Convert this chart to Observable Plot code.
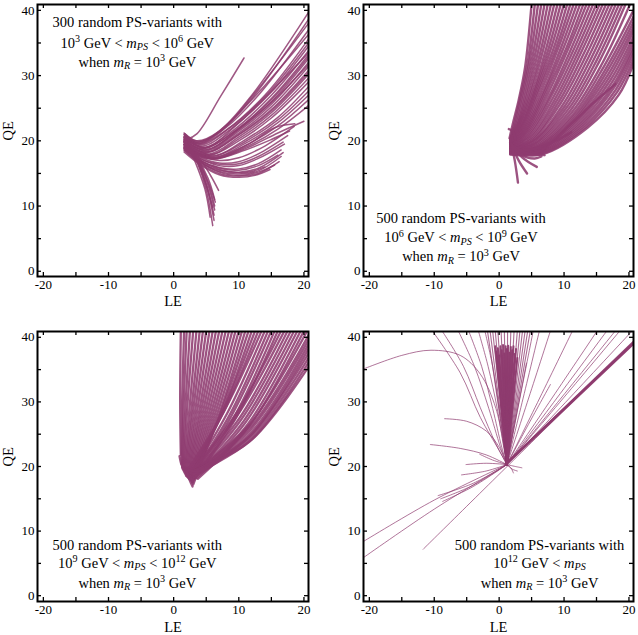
<!DOCTYPE html>
<html><head><meta charset="utf-8">
<script src="https://cdn.jsdelivr.net/npm/d3@7"></script>
<script src="https://cdn.jsdelivr.net/npm/@observablehq/plot@0.6"></script>
<style>
body{margin:0;background:#fff;}
#root{position:relative;width:638px;height:635px;overflow:hidden;background:#fff;}
.panel{position:absolute;}
</style></head><body><div id="root"></div>
<script>
// ---- tick values ----
const xTickLabels = [-20, -10, 0, 10, 20];
const yTickLabels = [0, 10, 20, 30, 40];
const xMinorTicks = [-20, -15, -10, -5, 0, 5, 10, 15, 20];
const yMinorTicks = [0, 5, 10, 15, 20, 25, 30, 35, 40];

// ---- curves (flat lists of LE,QE pairs) ----
// Panel A: 10^3 < mPS < 10^6
const curvesA = [
  [1.6,21.2, 3.5,20, 7,21.5, 12,27, 20.7,39.7],
  [1.6,21, 3.5,19.8, 7,21.3, 12,26.5, 20.7,38.6],
  [1.7,21.1, 3.8,19.9, 7.5,21.8, 12.5,27.4, 20.7,38],
  [1.7,20.8, 4,19.6, 8,22, 13,27, 20.7,37],
  [1.6,20.9, 4,19.7, 8.5,22.8, 14,28.5, 20.7,36.3],
  [1.6,20.5, 4,19.5, 8,21.6, 14,27, 20.7,35.6],
  [1.7,20.7, 4.2,19.4, 8.5,21.9, 14.5,27.3, 20.7,35],
  [1.7,20.3, 4.5,19.2, 9,22, 15,27.5, 20.7,34.5],
  [1.6,20.6, 4.5,19, 9,21.5, 15,27, 20.7,33.8],
  [1.7,20.4, 5,19, 9.5,22.3, 15,27.6, 20.7,33.5],
  [1.7,20, 4.5,18.8, 9,21.2, 15,26.5, 20.7,33.2],
  [1.6,20.3, 4.8,18.9, 9.5,21.6, 15,26.3, 20.7,32.9],
  [1.6,19.8, 5,18.6, 10,21.8, 15,26, 20.7,32.6],
  [1.6,20.2, 5,18.5, 10,21.5, 15,25.6, 20.7,32],
  [1.7,20.5, 5,18.7, 10,21.7, 15,25.9, 20.7,31.7],
  [1.7,19.6, 5,18.3, 10,21.2, 15,25.2, 20.7,31.4],
  [1.6,19.9, 5,18.2, 10,21, 15,24.8, 20.7,30.8],
  [1.7,20.2, 5.2,18.3, 10,20.9, 15,24.6, 20.7,30.5],
  [1.6,19.4, 5.5,18, 10,20.6, 15,24.3, 20.7,30.2],
  [1.7,20.1, 5.5,17.9, 10,20.3, 15,23.9, 20.7,29.6],
  [1.6,19.2, 5.5,17.8, 10,20, 15,23.5, 20.7,29],
  [1.6,19.7, 6,17.7, 11,20.2, 16,23.6, 20.7,28.3],
  [1.7,19, 6,17.6, 11,19.9, 16,23.2, 20.7,27.6],
  [1.6,19.5, 6,17.5, 11,19.6, 16,22.8, 20.7,27],
  [1.6,18.8, 6,17.4, 11,19.3, 16,22.3, 20.7,26.3],
  [1.7,19.3, 6,17.3, 11,19, 16,21.8, 20.7,25.4],
  [1.6,19, 6,17.2, 11,18.8, 16,21.2, 20,23],
  [1.6,18.6, 6,17.2, 11,18.6, 15,20.2, 17.8,21.5],
  [1.7,19.1, 6,17.3, 11,19.2, 15.5,22, 18.6,22.6],
  [2,20.2, 3.6,21.1, 7.2,26.8, 10.8,32.7],
  // lower group
  [1.6,19, 4,17, 7,15.6, 10,15.2, 13,15.8, 16.8,18.2],
  [1.6,18.8, 4,16.8, 7,15.3, 10,14.9, 13,15.4, 16.5,17.6],
  [1.7,18.5, 4,16.6, 7,15, 10,14.6, 13,15, 16.2,16.8],
  [1.6,19.2, 4,16.9, 7,15.2, 10,14.7, 13,15.2, 15.5,16.3],
  [1.6,18.3, 4,16.4, 7,14.8, 10,14.4, 12.5,14.7, 14.8,15.6],
  [1.6,19.5, 4,17.4, 7,16.2, 10,16.2, 13,17.3, 17,19.5],
  [1.7,19.7, 4,17.6, 7,16.6, 10,16.8, 13,18, 17.5,20.8],
  [1.6,19.4, 4,17.3, 7,16.4, 10,16.5, 13,17.6, 16.8,19.8],
  [1.6,20, 4,17.8, 7,17, 10,17.4, 14,19.2, 18.5,22.2],
  [1.6,18.9, 4,17, 7,15.9, 10,15.7, 13,16.5, 16.5,18.6],
  [1.7,19.1, 4,17.1, 7,15.8, 10,15.5, 13,16.2, 16,17.8],
  [1.6,18.6, 4,16.7, 7,15.5, 10,15.1, 12,15.3, 14,16],
  // downward group
  [1.6,20.6, 3.5,17, 5,12.5, 6,7],
  [1.6,20.3, 3.5,17.1, 5.1,12.8, 6.2,7.8],
  [1.7,20.2, 3.5,17.2, 5.1,13.1, 6.2,8.6],
  [1.6,20, 3.5,17.3, 5.2,13.4, 6.3,9.4],
  [1.6,19.8, 3.6,17.3, 5.2,13.8, 6.3,10],
  [1.7,19.6, 3.6,17.4, 5.3,14.2, 6.3,11],
  [1.6,19.4, 3.8,17.5, 5.6,14.8, 6.9,12.4],
  [1.6,20.6, 3.3,16.8, 4.8,12.6, 5.6,8.3],
  [1.6,19.9, 3.5,17.1, 5,13.2, 6,9.8],
  [1.6,20.1, 3.6,17.2, 5.3,13.7, 6.4,10.6]
];

// Panel B: 10^6 < mPS < 10^9
const curvesB = [
  [1.6,20.4, 2.2,23, 3,26.2, 4,31.3, 5,41],
  [1.7,20.2, 2.4,23, 3.3,26.8, 4.4,32, 5.5,41],
  [1.7,20, 2.6,23, 3.6,27.2, 4.8,32.8, 6,41],
  [1.7,20.3, 2.8,23, 3.9,27.5, 5.2,33.2, 6.5,41],
  [1.7,19.8, 3,23, 4.2,27.6, 5.6,33.5, 7,41],
  [1.7,20.1, 3.1,23, 4.5,27.8, 6,33.7, 7.5,41],
  [1.7,19.7, 3.2,22.8, 4.8,27.8, 6.4,33.8, 8,41],
  [1.7,20, 3.3,22.8, 5.1,28, 6.8,34, 8.5,41],
  [1.7,19.6, 3.4,22.6, 5.4,28, 7.2,34, 9,41],
  [1.7,19.9, 3.5,22.5, 5.6,28, 7.6,34.1, 9.5,41],
  [1.7,19.5, 3.6,22.4, 5.8,28, 8,34.2, 10,41],
  [1.7,19.8, 3.7,22.3, 6,27.9, 8.4,34.2, 10.5,41],
  [1.7,19.4, 3.8,22.1, 6.2,27.8, 8.8,34.3, 11,41],
  [1.7,19.7, 3.9,22, 6.5,27.7, 9.1,34.2, 11.5,41],
  [1.7,19.3, 4,21.8, 6.8,27.6, 9.5,34.2, 12,41],
  [1.7,19.6, 4.1,21.7, 7,27.5, 9.9,34.2, 12.5,41],
  [1.7,19.2, 4.2,21.5, 7.2,27.3, 10.3,34.1, 13,41],
  [1.7,19.5, 4.3,21.4, 7.5,27.2, 10.6,34, 13.5,41],
  [1.7,19.1, 4.4,21.2, 7.8,27, 11,33.9, 14,41],
  [1.7,19.4, 4.5,21, 8,26.8, 11.4,33.8, 14.5,41],
  [1.7,19, 4.6,20.8, 8.3,26.6, 11.8,33.7, 15,41],
  [1.7,19.3, 4.7,20.6, 8.6,26.4, 12.2,33.6, 15.5,41],
  [1.7,18.9, 4.8,20.4, 8.9,26.2, 12.6,33.5, 16,41],
  [1.7,19.2, 4.9,20.2, 9.2,26, 13,33.3, 16.5,41],
  [1.7,18.8, 5,20, 9.5,25.8, 13.4,33.1, 17,41],
  [1.7,19.1, 5.1,19.9, 9.8,25.5, 13.8,32.9, 17.5,41],
  [1.7,18.7, 5.2,19.8, 10.1,25.3, 14.2,32.7, 18,41],
  [1.7,19, 5.3,19.6, 10.4,25.1, 14.6,32.5, 18.5,41],
  [1.7,18.6, 5.4,19.5, 10.7,24.9, 15,32.3, 19,41],
  [1.7,18.9, 5.5,19.4, 11,24.7, 15.4,32.1, 19.5,41],
  [1.7,18.5, 5.6,19.2, 11.3,24.5, 15.9,31.9, 20.2,41],
  [1.7,18.8, 5.7,19.1, 11.5,24.2, 16.2,31.5, 20.7,40],
  [1.7,18.4, 5.8,19, 11.7,24, 16.4,31, 20.7,39],
  [1.7,18.7, 5.9,18.9, 11.9,23.8, 16.6,30.6, 20.7,38.2],
  [1.7,18.3, 6,18.8, 12,23.6, 16.8,30.2, 20.7,37.5],
  [1.7,18.6, 6.1,18.7, 12.2,23.4, 17,29.8, 20.7,36.8],
  [1.7,18.2, 6.2,18.6, 12.4,23.2, 17.2,29.4, 20.7,36],
  [1.7,18.5, 6.3,18.5, 12.6,23, 17.4,29, 20.7,35.3],
  [1.7,18.1, 6.4,18.4, 12.8,22.8, 17.6,28.6, 20.7,34.6],
  [1.7,18.4, 6.5,18.3, 13,22.6, 17.8,28.3, 20.7,34],
  [1.7,18, 6.6,18.2, 13.2,22.4, 18,27.9, 20.7,33.3],
  [1.7,18.3, 6.7,18.1, 13.4,22.2, 18.2,27.5, 20.7,32.5],
  [1.7,17.9, 6.8,18, 13.6,22, 18.4,27, 20.7,31.8],
  [1.7,18.2, 6,18.3, 11,22.5, 14.5,25.8, 17.9,28.7],
  [1.7,18.6, 5,18.7, 8,19.7, 11.1,21.3],
  [1.8,19.5, 4,18.2, 7,17.8],
  [1.7,19.8, 3.5,17.5, 5.8,16],
  [1.7,20, 3,17, 4.3,15],
  [1.7,20.3, 2.4,17, 2.9,13.6],
  [1.8,19.6, 3.5,17.8, 5.5,17.3, 6.5,17.6],
  [1.5,21.8, 2.1,21.5, 2.5,20.2]
];

// Panel C: 10^9 < mPS < 10^12
const curvesC = [
  [1.1,21.8, 1.0,30, 1.1,41],
  [1.2,20.4, 1.3,30, 1.6,41],
  [1.3,19.8, 1.55,30, 2,41],
  [1.4,19.6, 1.85,30, 2.5,41],
  [1.5,19.4, 2.15,30, 3,41],
  [1.6,19.2, 2.5,29.8, 3.5,41],
  [1.7,19, 2.8,29.5, 4,41],
  [1.8,18.8, 3.1,29.5, 4.5,41],
  [1.9,18.6, 3.4,29.3, 5,41],
  [2,18.5, 3.7,29.2, 5.5,41],
  [2.1,18.4, 4,29, 6,41],
  [2.2,18.3, 4.3,29, 6.5,41],
  [2.3,18.2, 4.6,28.9, 7,41],
  [2.4,18.1, 4.9,28.8, 7.5,41],
  [2.5,18, 5.2,28.7, 8,41],
  [2.6,17.9, 5.5,28.6, 8.5,41],
  [2.7,17.8, 5.8,28.5, 9,41],
  [2.8,17.7, 6.1,28.4, 9.5,41],
  [2.9,17.6, 6.4,28.3, 10,41],
  [2.9,17.4, 6.7,28.2, 10.5,41],
  [3,17.2, 7,28.1, 11,41],
  [2.8,17.6, 7.1,28, 11.5,41],
  [2.6,18, 7.3,28, 12,41],
  [2.4,18.4, 7.4,28.2, 12.5,41],
  [2.2,18.8, 7.6,28.3, 13,41],
  [2,19.2, 7.7,28.5, 13.5,41],
  [2.5,18.6, 8.2,28.2, 14,41],
  [2.7,18.5, 8.6,28, 14.5,41],
  [2.9,18.4, 8.9,27.9, 15,41],
  [3.1,18.3, 9.3,27.7, 15.5,41],
  [3.3,18.2, 9.6,27.6, 16,41],
  [2.3,18.8, 9.4,27.9, 16.5,41],
  [2.5,18.7, 9.7,27.8, 17,41],
  [2.7,18.6, 10.1,27.5, 17.5,41],
  [2.9,18.5, 10.4,27.3, 18,41],
  [3.1,18.4, 10.8,27.1, 18.5,41],
  [3.3,18.3, 11.1,26.9, 19,41],
  [3.5,18.2, 11.5,26.7, 19.5,41],
  [3.7,18.1, 11.8,26.5, 20,41],
  [2.6,18.9, 11.5,26.3, 20.5,41],
  [2.8,18.8, 11.7,26, 20.7,40.3],
  [3,18.7, 11.8,25.7, 20.7,39.6],
  [3.2,18.6, 12,25.4, 20.7,38.9],
  [3.4,18.5, 12,25, 20.7,38.2],
  [2.7,19, 11.7,24.7, 20.7,37.5],
  [2.9,18.9, 11.8,24.4, 20.7,36.8],
  [3.1,18.8, 11.9,24.1, 20.7,36.1],
  [2.5,19.1, 11.6,23.8, 20.7,35.4],
  [2.6,19, 7,21.5, 11.6,26.4],
  [2.4,19.2, 4.2,19.8, 5.8,20.8],
  [2.2,19.4, 4,19.5, 6,20.5],
  [1.7,19.8, 3.5,19.2, 5.5,20],
  [1.8,19.8, 2.4,18, 2.9,16.9],
  [0.9,21.6, 1.2,20.3, 1.6,19.6]
];

// Panel D: 10^12 < mPS — dense central core, lines to the top, spread lines
const coreD = [
  [1.2,20.3, -0.6,38.6], [1.2,20.3, -0.4,37.8], [1.2,20.3, -0.2,38.3],
  [1.2,20.3, 0.0,37.2], [1.2,20.3, 0.2,38.6], [1.2,20.3, 0.4,38.0],
  [1.2,20.3, 0.6,38.8], [1.2,20.3, 0.8,37.5], [1.2,20.3, 1.0,38.6],
  [1.2,20.3, 1.2,38.2], [1.2,20.3, 1.4,38.7], [1.2,20.3, 1.6,37.6],
  [1.2,20.3, 1.8,38.5], [1.2,20.3, 2.0,38.0], [1.2,20.3, 2.2,38.6],
  [1.2,20.3, 2.4,37.4], [1.2,20.3, 2.6,38.2], [1.2,20.3, 2.8,36.8],
  [1.0,20.4, 20.7,39.1], [1.2,20.5, 20.7,39.3], [1.4,20.6, 20.7,39.0]
];
const topD = [
  [1.2,20.3, -1.8,41], [1.2,20.3, -1.4,41], [1.2,20.3, -1.0,41],
  [1.2,20.3, -0.6,41], [1.2,20.3, -0.2,41], [1.2,20.3, 0.3,41],
  [1.2,20.3, 0.8,41], [1.2,20.3, 1.3,41], [1.2,20.3, 1.8,41],
  [1.2,20.3, 2.3,41], [1.2,20.3, 2.8,41], [1.2,20.3, 3.2,41],
  [1.2,20.3, 3.6,41], [1.2,20.3, 4.0,41], [1.2,20.3, 4.4,41],
  [1.2,20.3, 4.8,41]
];
const spreadD = [
  [1.2,20.3, 3.2,30.6, 5.25,41],
  [1.2,20.3, 3.7,30.6, 6.2,41],
  [1.2,20.3, 4.55,30.6, 7.9,41],
  [1.2,20.3, 6.25,30.6, 11.3,41],
  [1.2,20.3, 8.15,30.6, 15.1,41],
  [1.2,20.3, 8.9,30.6, 16.6,41],
  [1.2,20.3, 9.55,30.6, 17.9,41],
  [1.2,20.3, 9.9,30.6, 18.6,41],
  [1.2,20.3, 10.85,30.6, 20.5,41],
  [1.2,20.3, 4.5,26.5, 7.9,32.7],
  [1.2,20.3, 2.7,28.2, 4.2,36],
  [-11.7,7.2, 4.5,23.25, 20.7,39.3],
  [0.8,20.2, 10.7,29.7, 20.7,39.2],
  [1.2,20.3, -10,14.8, -20.9,8.4],
  [1.2,20.3, -10,13.4, -20.9,5.9],
  [1.2,20.3, -4,17.4, -9.4,15.5],
  [1.2,20.3, -4,17.1, -9,15],
  [1.2,20.3, -4,16.9, -8.7,14.6],
  [1.2,20.3, -2,19.3, -5.8,18.7],
  [1.2,20.3, -2,20.5, -5.1,20.3],
  [1.2,20.3, -1,21, -3,21.9],
  [-20.9,35.1, -15,37.2, -10.5,38, -6,37.2, -2.9,34.3, -0.5,29, 1,21.5],
  [-8.4,27.4, -5,27, -2,25.5, 0,23, 1.2,20.3],
  [-10.6,23.4, -6,22.8, -2,21.8, 1.2,20.3],
  [-10.3,41, -6,34.5, -2.9,27.6, 0,22.5, 1.2,20.3],
  [-8.8,41, -5.5,35.5, -2.9,29.1, -0.5,23.5, 1.2,20.3],
  [-6.3,41, -3.8,35.5, -1.6,29, 0.2,23, 1.2,20.3],
  [-4.7,41, -2.7,35.5, -1,29, 0.4,23, 1.2,20.3],
  [-3.2,41, -1.7,35.5, -0.3,29, 0.7,23, 1.2,20.3],
  [-2.2,41, -1,35.5, 0,29, 0.8,23, 1.2,20.3],
  [1.2,20.3, 2,19.6, 2.8,19.3],
  [1.2,20.3, 2.5,20, 3.5,19.8],
  [1.2,20.3, 1.8,19.8, 2.2,19.0]
];

// ---- annotation texts ----
const noteA = [
  ["300 random PS-variants with"],
  ["10", {sup:"3"}, " GeV < ", {i:"m"}, {sub:"PS"}, " < 10", {sup:"6"}, " GeV"],
  ["when ", {i:"m"}, {sub:"R"}, " = 10", {sup:"3"}, " GeV"]
];
const noteB = [
  ["500 random PS-variants with"],
  ["10", {sup:"6"}, " GeV < ", {i:"m"}, {sub:"PS"}, " < 10", {sup:"9"}, " GeV"],
  ["when ", {i:"m"}, {sub:"R"}, " = 10", {sup:"3"}, " GeV"]
];
const noteC = [
  ["500 random PS-variants with"],
  ["10", {sup:"9"}, " GeV < ", {i:"m"}, {sub:"PS"}, " < 10", {sup:"12"}, " GeV"],
  ["when ", {i:"m"}, {sub:"R"}, " = 10", {sup:"3"}, " GeV"]
];
const noteD = [
  ["500 random PS-variants with"],
  ["10", {sup:"12"}, " GeV < ", {i:"m"}, {sub:"PS"}],
  ["when ", {i:"m"}, {sub:"R"}, " = 10", {sup:"3"}, " GeV"]
];

const FONT = "'Liberation Serif', 'DejaVu Serif', serif";
const COLOR = "#8e3b6f";

function toRows(curves) {
  const rows = [];
  curves.forEach((c, id) => {
    for (let k = 0; k < c.length; k += 2) rows.push({id, x: c[k], y: c[k + 1]});
  });
  return rows;
}

function richText(svg, x, y, segs, fs) {
  const t = d3.select(svg).append("text")
    .attr("x", x).attr("y", y)
    .attr("text-anchor", "middle")
    .attr("font-family", FONT)
    .attr("font-size", fs)
    .attr("fill", "#000")
    .style("white-space", "pre");
  let cur = 0;
  for (const s of segs) {
    let txt, target = 0, size = null, italic = false;
    if (typeof s === "string") { txt = s; }
    else if (s.sup) { txt = s.sup; target = -5.5; size = fs * 0.7; }
    else if (s.sub) { txt = s.sub; target = 2.5; size = fs * 0.7; italic = true; }
    else if (s.i) { txt = s.i; italic = true; }
    const ts = t.append("tspan").attr("dy", target - cur).text(txt);
    if (size) ts.attr("font-size", size);
    if (italic) ts.attr("font-style", "italic");
    cur = target;
  }
}

function panel(opts) {
  const {layers, left, top, width, height, ml, mr, mt, mb, ydom, labDy, note, noteX, noteYs} = opts;
  const pw = width - ml - mr, ph = height - mt - mb;
  const marks = [];
  for (const L of layers) {
    marks.push(Plot.line(toRows(L.curves), {
      x: "x", y: "y", z: "id", curve: "catmull-rom",
      stroke: COLOR, strokeWidth: L.sw, strokeOpacity: L.so, clip: true
    }));
  }
  marks.push(
    Plot.tickX(xMinorTicks, {x: d => d, insetTop: ph - 4, strokeWidth: 1.3}),
    Plot.tickX(xMinorTicks, {x: d => d, insetBottom: ph - 4, strokeWidth: 1.3}),
    Plot.tickY(yMinorTicks, {y: d => d, insetRight: pw - 4, strokeWidth: 1.3}),
    Plot.tickY(yMinorTicks, {y: d => d, insetLeft: pw - 4, strokeWidth: 1.3}),
    Plot.axisX({ticks: xTickLabels, tickSize: 0, tickPadding: 3, tickFormat: d => String(d), label: null, fontSize: 13}),
    Plot.axisY({ticks: yTickLabels, tickSize: 0, tickPadding: 3, tickFormat: d => String(d), label: null, fontSize: 13}),
    Plot.frame({stroke: "black", strokeWidth: 2}),
    Plot.text(["LE"], {frameAnchor: "bottom", dy: labDy, fontSize: 14.5, text: d => d}),
    Plot.text(["QE"], {frameAnchor: "left", rotate: -90, dx: -29, fontSize: 14.5, text: d => d})
  );
  const svg = Plot.plot({
    width, height,
    marginLeft: ml, marginRight: mr, marginTop: mt, marginBottom: mb,
    x: {domain: [-20.9, 20.7], label: null},
    y: {domain: ydom, label: null},
    style: {fontFamily: FONT, fontSize: "13px", background: "transparent", color: "#000"},
    marks
  });
  const xs = svg.scale("x"), ys = svg.scale("y");
  note.forEach((segs, i) => richText(svg, xs.apply(noteX), ys.apply(noteYs[i]), segs, 14.5));
  const div = document.createElement("div");
  div.className = "panel";
  div.style.left = left + "px";
  div.style.top = top + "px";
  div.appendChild(svg);
  document.getElementById("root").appendChild(div);
}

panel({layers: [{curves: curvesA, sw: 1.5, so: 0.85}], left: 0, top: 0, width: 319, height: 318,
  ml: 37, mr: 11, mt: 4, mb: 42, ydom: [-0.8, 40.9], labDy: 29,
  note: noteA, noteX: -5.5, noteYs: [37.3, 34.2, 31.3]});
panel({layers: [{curves: curvesB, sw: 2.4, so: 0.88}], left: 318, top: 0, width: 320, height: 318,
  ml: 45, mr: 5, mt: 4, mb: 42, ydom: [-0.8, 40.9], labDy: 29,
  note: noteB, noteX: -5.8, noteYs: [7.25, 4.34, 1.43]});
panel({layers: [{curves: curvesC, sw: 2.3, so: 0.88}], left: 0, top: 318, width: 319, height: 317,
  ml: 37, mr: 11, mt: 13, mb: 34, ydom: [-0.9, 40.9], labDy: 30,
  note: noteC, noteX: -5.5, noteYs: [7.07, 4.28, 1.19]});
panel({layers: [{curves: spreadD, sw: 1, so: 0.7}, {curves: topD, sw: 1.1, so: 0.75}, {curves: coreD, sw: 2, so: 0.95}],
  left: 318, top: 318, width: 320, height: 317,
  ml: 45, mr: 5, mt: 13, mb: 34, ydom: [-0.9, 40.9], labDy: 30,
  note: noteD, noteX: 6.3, noteYs: [7.07, 4.28, 1.19]});
</script></body></html>
